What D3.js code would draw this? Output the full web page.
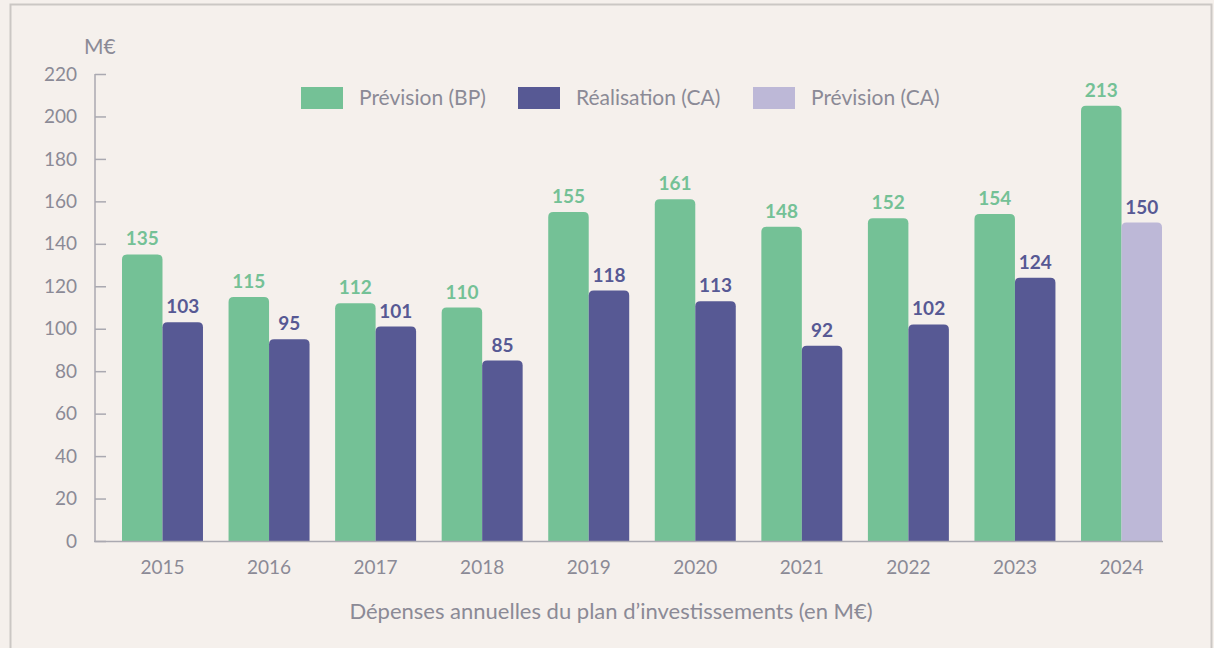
<!DOCTYPE html>
<html>
<head>
<meta charset="utf-8">
<script src="https://cdn.jsdelivr.net/npm/d3@7"></script>
<style>
  html, body { margin: 0; padding: 0; background: #f5f0ec; }
  svg { display: block; font-family: Lato, "Noto Sans", sans-serif; }
</style>
</head>
<body>
<div id="chart"></div>
<script>
// values
var years = ["2015", "2016", "2017", "2018", "2019", "2020", "2021", "2022", "2023", "2024"];
var previsionBP = [135, 115, 112, 110, 155, 161, 148, 152, 154, 213];
var realisationCA = [103, 95, 101, 85, 118, 113, 92, 102, 124, null];
var previsionCA = [null, null, null, null, null, null, null, null, null, 150];
var yTicks = [0, 20, 40, 60, 80, 100, 120, 140, 160, 180, 200, 220];
var bpBarCap = 205; // the 2024 BP bar is drawn shorter than its label in the source

var green = "#74c196", purple = "#575994", lilac = "#bdb8d7",
    textGrey = "#8b8a96", axisGrey = "#aaa9b1";

var width = 1214, height = 648;

var svg = d3.select("#chart").append("svg")
    .attr("width", width)
    .attr("height", height);

svg.append("rect")
    .attr("x", 10.5).attr("y", 4.5)
    .attr("width", 1201).attr("height", 660)
    .attr("fill", "#f5f0ec")
    .attr("stroke", "#cbc7c4")
    .attr("stroke-width", 2);

var y = d3.scaleLinear().domain([0, 220]).range([541, 74]);

var x = d3.scaleBand()
    .domain(years)
    .range([122, 1162])
    .paddingInner(0.24)
    .paddingOuter(0);

var half = x.bandwidth() / 2;

// rounded top bar path
function barPath(x0, w, v) {
  var r = 5, y0 = y(v), yb = y(0);
  return "M" + x0 + "," + yb +
    "V" + (y0 + r) +
    "Q" + x0 + "," + y0 + " " + (x0 + r) + "," + y0 +
    "H" + (x0 + w - r) +
    "Q" + (x0 + w) + "," + y0 + " " + (x0 + w) + "," + (y0 + r) +
    "V" + yb + "Z";
}

var series = [
  { values: previsionBP, color: green, offset: 0, cap: bpBarCap },
  { values: realisationCA, color: purple, offset: half, cap: 999 },
  { values: previsionCA, color: lilac, offset: half, cap: 999 }
];

series.forEach(function(s) {
  var data = years.map(function(yr, i) { return { year: yr, v: s.values[i] }; })
    .filter(function(d) { return d.v != null; });

  svg.append("g").selectAll("path")
    .data(data)
    .enter().append("path")
      .attr("d", function(d) { return barPath(x(d.year) + s.offset, half, Math.min(d.v, s.cap)); })
      .attr("fill", s.color);

  svg.append("g").selectAll("text")
    .data(data)
    .enter().append("text")
      .attr("x", function(d) { return x(d.year) + s.offset + half / 2; })
      .attr("y", function(d) { return y(Math.min(d.v, s.cap)) - 9; })
      .attr("text-anchor", "middle")
      .attr("font-size", 19)
      .attr("font-weight", "bold")
      .attr("fill", s.color == green ? green : purple)
      .text(function(d) { return d.v; });
});

// y axis
var yAxis = svg.append("g")
    .attr("transform", "translate(95,0)")
    .call(d3.axisRight(y).tickValues(yTicks).tickSize(11).tickFormat(""));
yAxis.select(".domain").attr("stroke", axisGrey).attr("stroke-width", 1.5)
    .attr("d", "M0,74V541");
yAxis.selectAll(".tick line").attr("stroke", axisGrey).attr("stroke-width", 1.5);

svg.append("g").selectAll("text")
    .data(yTicks)
    .enter().append("text")
      .attr("x", 77)
      .attr("y", function(d) { return y(d); })
      .attr("dy", "0.35em")
      .attr("text-anchor", "end")
      .attr("font-size", 19)
      .attr("fill", textGrey)
      .text(function(d) { return d; });

// x axis line
svg.append("line")
    .attr("x1", 94).attr("x2", 1163)
    .attr("y1", 541.5).attr("y2", 541.5)
    .attr("stroke", axisGrey).attr("stroke-width", 1.5);

svg.append("g").selectAll("text")
    .data(years)
    .enter().append("text")
      .attr("x", function(d) { return x(d) + x.bandwidth() / 2; })
      .attr("y", 574)
      .attr("text-anchor", "middle")
      .attr("font-size", 19)
      .attr("fill", textGrey)
      .text(function(d) { return d; });

svg.append("text")
    .attr("x", 84).attr("y", 54)
    .attr("font-size", 21)
    .attr("fill", textGrey)
    .text("M€");

svg.append("text")
    .attr("x", 611).attr("y", 619)
    .attr("text-anchor", "middle")
    .attr("font-size", 22)
    .attr("fill", textGrey)
    .text("Dépenses annuelles du plan d’investissements (en M€)");

// legend
var legend = [
  { label: "Prévision (BP)", color: green, x: 301 },
  { label: "Réalisation (CA)", color: purple, x: 518 },
  { label: "Prévision (CA)", color: lilac, x: 753 }
];
var lg = svg.append("g").selectAll("g")
    .data(legend)
    .enter().append("g")
      .attr("transform", function(d) { return "translate(" + d.x + ",87)"; });
lg.append("rect").attr("width", 42).attr("height", 22).attr("fill", function(d) { return d.color; });
lg.append("text")
    .attr("x", 58).attr("y", 11).attr("dy", "0.35em")
    .attr("font-size", 21)
    .attr("fill", textGrey)
    .text(function(d) { return d.label; });
</script>
</body>
</html>
